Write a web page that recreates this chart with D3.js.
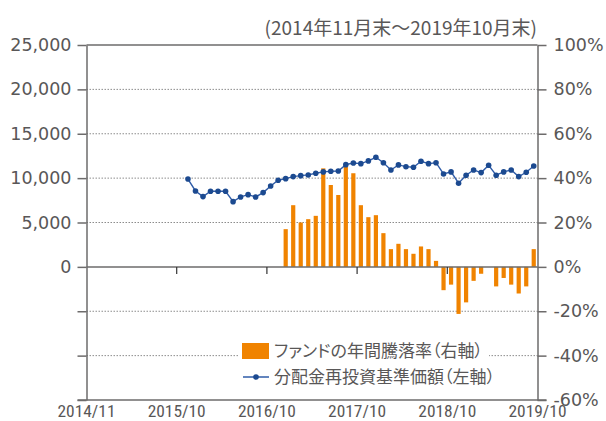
<!DOCTYPE html>
<html>
<head>
<meta charset="utf-8">
<script src="https://cdn.jsdelivr.net/npm/d3@7"></script>
<style>
  body { margin: 0; background: #fff; }
  text { font-family: "Noto Sans CJK JP", "Noto Sans", sans-serif; fill: #595757; }
</style>
</head>
<body>
<script>
// month categories: 2014/11 .. 2019/10
var firstMonth = new Date(2014, 10, 1);
var months = d3.timeMonth.range(firstMonth, new Date(2019, 10, 1)).map(d3.timeFormat("%Y/%m"));

var xTickIdx = [0, 12, 24, 36, 48, 60];
var xTickLabels = ["2014/11", "2015/10", "2016/10", "2017/10", "2018/10", "2019/10"];
var leftTicks = [-15000, -10000, -5000, 0, 5000, 10000, 15000, 20000, 25000];
var rightTicks = [-60, -40, -20, 0, 20, 40, 60, 80, 100];

// 分配金再投資基準価額 (left axis), monthly from 2015/12
var navStart = "2015/12";
var navValues = [9900, 8550, 7920, 8520, 8520, 8520, 7350, 7880, 8140, 7880,
                 8370, 9120, 9760, 9940, 10170, 10280, 10360, 10550, 10700, 10780,
                 10810, 11520, 11710, 11630, 11940, 12350, 11740, 10920, 11490, 11290,
                 11230, 11900, 11630, 11740, 10470, 10700, 9430, 10330, 10920, 10620,
                 11450, 10330, 10700, 10920, 10170, 10660, 11370];

// ファンドの年間騰落率 (right axis, %), monthly from 2017/01
var retStart = "2017/01";
var retValues = [17.0, 27.8, 20.0, 21.5, 23.0, 44.4, 36.9, 32.4, 45.2, 42.2,
                 27.8, 22.4, 23.3, 15.2, 8.0, 10.4, 8.0, 5.9, 9.2, 8.0,
                 2.7, -10.5, -8.0, -21.2, -16.0, -6.3, -3.1, 0, -8.8, -5.0,
                 -8.0, -12.0, -8.8, 8.0];

var legendLabels = ["ファンドの年間騰落率（右軸）", "分配金再投資基準価額（左軸）"];
var titleText = "(2014年11月末～2019年10月末)";

var width = 606, height = 421;
var axisColor = "#6d6b6b";
var numFont = "'DejaVu Sans', 'Noto Sans', sans-serif";

var svg = d3.select("body").append("svg")
  .attr("width", width)
  .attr("height", height);

var x = d3.scaleLinear().domain([0, months.length]).range([86.5, 537.5]);
var yL = d3.scaleLinear().domain([-15000, 25000]).range([400, 45]);
var yR = d3.scaleLinear().domain([-60, 100]).range([400, 45]);

var navIdx = months.indexOf(navStart);
var retIdx = months.indexOf(retStart);
var navData = navValues.map(function(v, i) { return {i: navIdx + i, v: v}; });
var retData = retValues.map(function(v, i) { return {i: retIdx + i, v: v}; });

// dotted grid lines
svg.append("g").selectAll("line")
  .data(rightTicks.filter(function(d) { return d != 0 && d != 100 && d != -60; }))
  .enter().append("line")
  .attr("x1", x(0)).attr("x2", x(months.length))
  .attr("y1", function(d) { return yR(d); })
  .attr("y2", function(d) { return yR(d); })
  .attr("stroke", "#8c8c8c")
  .attr("stroke-width", 1)
  .attr("stroke-dasharray", "1.5,1.5");

// top border
svg.append("line")
  .attr("x1", x(0)).attr("x2", x(months.length))
  .attr("y1", yR(100)).attr("y2", yR(100))
  .attr("stroke", axisColor).attr("stroke-width", 1.5);

// bars
var barW = 4.2;
svg.append("g").selectAll("rect")
  .data(retData)
  .enter().append("rect")
  .attr("x", function(d) { return x(d.i + 0.5) - barW / 2; })
  .attr("y", function(d) { return yR(Math.max(0, d.v)); })
  .attr("width", barW)
  .attr("height", function(d) { return Math.abs(yR(d.v) - yR(0)); })
  .attr("fill", "#f08300");

// zero line + category ticks on it
svg.append("line")
  .attr("x1", x(0)).attr("x2", x(months.length))
  .attr("y1", yR(0)).attr("y2", yR(0))
  .attr("stroke", axisColor).attr("stroke-width", 1.5);

svg.append("g").selectAll("line")
  .data(xTickIdx.slice(1, -1))
  .enter().append("line")
  .attr("x1", function(d) { return x(d); })
  .attr("x2", function(d) { return x(d); })
  .attr("y1", yR(0)).attr("y2", yR(0) + 7)
  .attr("stroke", "#333").attr("stroke-width", 1.2);

// line series
var line = d3.line()
  .x(function(d) { return x(d.i + 0.5); })
  .y(function(d) { return yL(d.v); });

svg.append("path")
  .datum(navData)
  .attr("d", line)
  .attr("fill", "none")
  .attr("stroke", "#2f5ca8")
  .attr("stroke-width", 1.4);

svg.append("g").selectAll("circle")
  .data(navData)
  .enter().append("circle")
  .attr("cx", function(d) { return x(d.i + 0.5); })
  .attr("cy", function(d) { return yL(d.v); })
  .attr("r", 2.8)
  .attr("fill", "#1c4a90");

// left axis
var leftAxis = d3.axisLeft(yL)
  .tickValues(leftTicks)
  .tickSize(9)
  .tickSizeOuter(0)
  .tickPadding(6)
  .tickFormat(function(d) { return d >= 0 ? d3.format(",")(d) : ""; });

var gL = svg.append("g")
  .attr("transform", "translate(" + x(0) + ",0)")
  .call(leftAxis);

// right axis
var rightAxis = d3.axisRight(yR)
  .tickValues(rightTicks)
  .tickSize(9)
  .tickSizeOuter(0)
  .tickPadding(7)
  .tickFormat(function(d) { return d + "%"; });

var gR = svg.append("g")
  .attr("transform", "translate(" + x(months.length) + ",0)")
  .call(rightAxis);

[gL, gR].forEach(function(g) {
  g.select(".domain").attr("stroke", axisColor).attr("stroke-width", 1.5);
  g.selectAll(".tick line").attr("stroke", axisColor).attr("stroke-width", 1.5);
  g.selectAll(".tick text")
    .attr("fill", "#595757")
    .style("font-size", "17.5px")
    .style("font-family", numFont);
});

// bottom axis line and labels
svg.append("line")
  .attr("x1", x(0) - 9).attr("x2", x(months.length) + 9)
  .attr("y1", yR(-60)).attr("y2", yR(-60))
  .attr("stroke", axisColor).attr("stroke-width", 1.5);

svg.append("g").selectAll("text")
  .data(xTickIdx)
  .enter().append("text")
  .attr("x", function(d) { return x(d); })
  .attr("y", 417)
  .attr("text-anchor", "middle")
  .style("font-size", "17.4px")
  .style("font-family", "'Roboto Condensed', 'Noto Sans', sans-serif")
  .text(function(d, i) { return xTickLabels[i]; });

// title
svg.append("text")
  .attr("x", 537)
  .attr("y", 35)
  .attr("text-anchor", "end")
  .style("font-size", "19px")
  .text(titleText);

// legend
var legend = svg.append("g");
legend.append("rect")
  .attr("x", 239).attr("y", 338)
  .attr("width", 250).attr("height", 50)
  .attr("fill", "#fff");

legend.append("rect")
  .attr("x", 242).attr("y", 343)
  .attr("width", 27).attr("height", 16)
  .attr("fill", "#f08300");

legend.append("line")
  .attr("x1", 243).attr("x2", 269)
  .attr("y1", 377).attr("y2", 377)
  .attr("stroke", "#2f5ca8").attr("stroke-width", 1.5);

legend.append("circle")
  .attr("cx", 256).attr("cy", 377).attr("r", 2.8)
  .attr("fill", "#1c4a90");

legend.selectAll("text.lab")
  .data(legendLabels)
  .enter().append("text")
  .attr("class", "lab")
  .attr("x", 274)
  .attr("y", function(d, i) { return 351 + i * 26; })
  .attr("dy", "0.35em")
  .style("font-size", "17px")
  .style("font-feature-settings", "'palt'")
  .text(function(d) { return d; });
</script>
</body>
</html>
